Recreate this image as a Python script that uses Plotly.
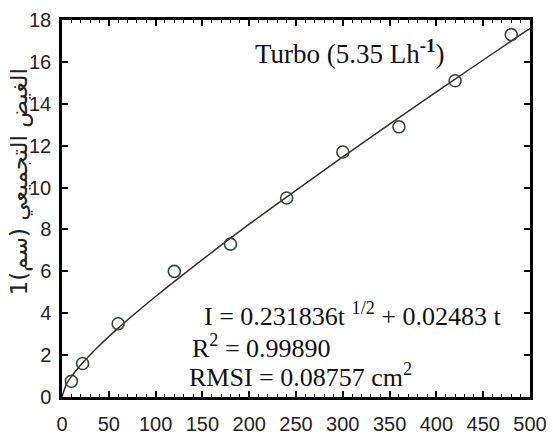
import plotly.graph_objects as go

# Observed data (time in minutes, cumulative infiltration in cm)
t_obs = [10, 22, 60, 120, 180, 240, 300, 360, 420, 480]
i_obs = [0.75, 1.6, 3.5, 6.0, 7.3, 9.5, 11.7, 12.9, 15.1, 17.3]

# Fitted curve values
t_fit = [0, 5, 10, 20, 40, 60, 80, 100, 150, 200, 250, 300, 350, 400, 450, 500]
i_fit = [0, 0.64, 0.98, 1.53, 2.46, 3.29, 4.06, 4.80, 6.56, 8.25, 9.87, 11.46, 13.03, 14.57, 16.09, 17.60]

x_ticks = [0, 50, 100, 150, 200, 250, 300, 350, 400, 450, 500]
y_ticks = [0, 2, 4, 6, 8, 10, 12, 14, 16, 18]

tick_font = dict(family="Liberation Sans, Arial, sans-serif", size=20, color="#222")
serif = "Liberation Serif, Times New Roman, serif"

fig = go.Figure()
fig.add_trace(go.Scatter(x=t_fit, y=i_fit, mode="lines", line=dict(color="#3b2a2a", width=1.5, shape="spline"),
                         showlegend=False, hoverinfo="skip"))
fig.add_trace(go.Scatter(x=t_obs, y=i_obs, mode="markers",
                         marker=dict(symbol="circle-open", size=12, color="#35463d", line=dict(width=1.6)),
                         showlegend=False))

axis_common = dict(showline=True, linewidth=2.5, linecolor="black", mirror="allticks",
                   ticks="inside", ticklen=6, tickwidth=1.5, tickcolor="black", automargin=False,
                   showgrid=False, zeroline=False, tickfont=tick_font)
fig.update_xaxes(range=[0, 500], tickvals=x_ticks, ticktext=[str(v) for v in x_ticks],
                 minor=dict(ticks="inside", dtick=10, ticklen=3, tickcolor="black", tickwidth=1),
                 ticklabelstandoff=7, **axis_common)
fig.update_yaxes(range=[0, 18], tickvals=y_ticks, ticktext=[str(v) for v in y_ticks],
                 ticklabelstandoff=4, **axis_common)

annos = [
    dict(x=204, y=16.45, text="Turbo (5.35 Lh<sup><b>-1</b></sup>)", size=27),
    dict(x=149.6, y=3.95, text="I = 0.231836t <sup>1/2</sup> + 0.02483 t", size=26),
    dict(x=136.8, y=2.42, text="R<sup>2</sup> = 0.99890", size=26),
    dict(x=133.5, y=1.02, text="RMSI = 0.08757 cm<sup>2</sup>", size=26),
]
for a in annos:
    fig.add_annotation(x=a["x"], y=a["y"], xref="x", yref="y", text=a["text"], showarrow=False,
                       xanchor="left", yanchor="middle", font=dict(family=serif, size=a["size"], color="#111"))

fig.add_annotation(x=(19 - 62) / 468, y=(397 - 182) / 377.5, xref="paper", yref="paper",
                   text="الغيض التجميعي (سم)1", textangle=-90, showarrow=False,
                   xanchor="center", yanchor="middle",
                   font=dict(family="DejaVu Sans, Noto Sans, sans-serif", size=23, color="#222"))

fig.update_layout(width=553, height=438, margin=dict(l=62, r=23, t=20, b=41),
                  plot_bgcolor="white", paper_bgcolor="white")

fig.write_html("out.html")
